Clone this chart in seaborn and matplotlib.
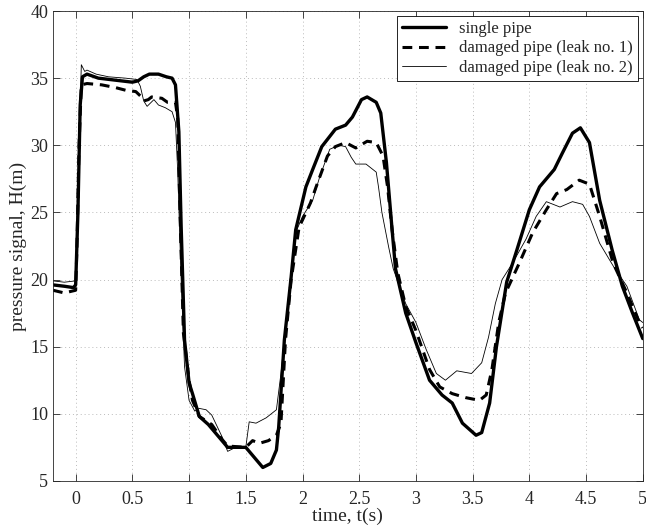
import numpy as np
import pandas as pd
import matplotlib
matplotlib.use("Agg")
import matplotlib.pyplot as plt
import seaborn as sns

# values
t_single = [-0.2, -0.1, -0.02, 0.0, 0.02, 0.04, 0.06, 0.1, 0.2, 0.3, 0.4, 0.5, 0.55, 0.6, 0.65, 0.73,
            0.8, 0.85, 0.88, 0.91, 0.93, 0.96, 1.0, 1.03, 1.09, 1.17, 1.29, 1.34, 1.5, 1.56, 1.65, 1.72,
            1.77, 1.79, 1.84, 1.9, 1.94, 2.03, 2.09, 2.17, 2.29, 2.38, 2.44, 2.52, 2.57, 2.65, 2.69,
            2.74, 2.79, 2.82, 2.91, 3.0, 3.12, 3.23, 3.32, 3.41, 3.53, 3.58, 3.65, 3.71, 3.8, 3.89,
            4.0, 4.09, 4.22, 4.29, 4.38, 4.45, 4.53, 4.62, 4.73, 4.82, 4.91, 5.0]
h_single = [19.6, 19.5, 19.4, 19.6, 25.0, 33.0, 35.1, 35.3, 35.0, 34.9, 34.8, 34.7, 34.8, 35.1, 35.3, 35.3,
            35.1, 35.0, 34.5, 31.0, 24.0, 15.5, 12.3, 11.5, 9.8, 9.2, 8.0, 7.5, 7.5, 6.9, 6.0, 6.3,
            7.3, 9.0, 15.5, 20.2, 23.7, 26.9, 28.2, 29.9, 31.2, 31.5, 32.1, 33.4, 33.6, 33.2, 32.4,
            28.7, 23.7, 20.8, 17.5, 15.3, 12.5, 11.4, 10.8, 9.3, 8.4, 8.6, 10.8, 15.0, 19.8, 22.2,
            25.2, 26.9, 28.2, 29.4, 30.9, 31.3, 30.2, 25.9, 22.2, 19.5, 17.5, 15.6]

t_leak1 = [-0.2, -0.1, 0.0, 0.01, 0.03, 0.05, 0.1, 0.23, 0.35, 0.44, 0.53, 0.58, 0.6, 0.64, 0.67, 0.76,
           0.81, 0.88, 0.9, 0.92, 0.95, 1.0, 1.03, 1.09, 1.2, 1.29, 1.34, 1.5, 1.56, 1.62, 1.7, 1.77,
           1.81, 1.85, 1.9, 1.97, 2.07, 2.12, 2.22, 2.29, 2.38, 2.47, 2.57, 2.65, 2.71, 2.75, 2.79,
           2.84, 2.91, 3.0, 3.12, 3.21, 3.32, 3.44, 3.56, 3.62, 3.67, 3.73, 3.79, 3.91, 4.03, 4.15,
           4.24, 4.33, 4.44, 4.53, 4.62, 4.74, 4.86, 4.97, 5.0]
h_leak1 = [19.2, 19.0, 19.2, 22.0, 30.0, 34.5, 34.6, 34.5, 34.3, 34.1, 34.0, 33.6, 33.3, 33.4, 33.6, 33.5,
           33.2, 33.2, 32.0, 25.0, 16.0, 12.5, 11.0, 9.8, 9.2, 8.1, 7.6, 7.5, 8.0, 7.8, 8.0, 8.4,
           9.3, 15.5, 20.0, 23.9, 25.7, 26.9, 29.2, 29.9, 30.2, 29.8, 30.3, 30.2, 29.2, 26.9, 23.7,
           20.5, 18.0, 16.2, 13.3, 12.0, 11.5, 11.2, 11.0, 11.4, 13.3, 16.8, 19.0, 21.2, 23.5, 25.2,
           26.4, 26.7, 27.4, 27.1, 24.7, 21.2, 19.0, 16.8, 16.4]

t_leak2 = [-0.2, -0.1, 0.0, 0.02, 0.05, 0.08, 0.1, 0.18, 0.29, 0.44, 0.54, 0.57, 0.6, 0.63, 0.69, 0.73,
           0.79, 0.85, 0.88, 0.9, 0.93, 0.96, 1.0, 1.05, 1.09, 1.15, 1.2, 1.29, 1.34, 1.41, 1.5, 1.53,
           1.59, 1.68, 1.77, 1.81, 1.84, 1.9, 1.94, 2.0, 2.09, 2.15, 2.24, 2.32, 2.38, 2.43, 2.47,
           2.56, 2.65, 2.67, 2.7, 2.76, 2.8, 2.91, 3.0, 3.09, 3.18, 3.26, 3.36, 3.49, 3.58, 3.64,
           3.7, 3.76, 3.85, 3.97, 4.06, 4.15, 4.27, 4.38, 4.47, 4.53, 4.62, 4.74, 4.86, 4.97, 5.0]
h_leak2 = [19.9, 19.8, 19.9, 27.0, 36.0, 35.5, 35.6, 35.3, 35.1, 35.0, 34.9, 34.4, 33.3, 32.9, 33.4, 33.0,
           32.8, 32.5, 31.7, 28.0, 20.0, 13.5, 11.0, 10.2, 10.4, 10.3, 9.9, 8.3, 7.2, 7.5, 7.5, 9.4,
           9.3, 9.7, 10.3, 13.0, 15.5, 20.5, 23.5, 24.7, 25.9, 27.6, 29.7, 30.0, 29.9, 29.1, 28.6,
           28.6, 28.0, 26.9, 25.0, 22.4, 20.8, 18.2, 16.8, 14.8, 13.0, 12.5, 13.2, 13.0, 13.8, 15.7,
           18.2, 20.0, 21.2, 23.0, 24.7, 25.8, 25.4, 25.8, 25.6, 24.7, 22.7, 21.0, 19.5, 17.0, 16.8]

sns.set_style("ticks")
plt.rcParams['font.family'] = ['Liberation Serif', 'DejaVu Serif']
plt.rcParams['axes.unicode_minus'] = False

fig = plt.figure(figsize=(6.46, 5.25), dpi=100)
ax = fig.add_axes([0.082, 0.084, 0.913, 0.895])

sns.lineplot(x=t_single, y=h_single, ax=ax, color='k', lw=2.4, label='single pipe',
             errorbar=None, sort=False)
sns.lineplot(x=t_leak1, y=h_leak1, ax=ax, color='k', lw=2.2, linestyle=(0, (3.2, 2.2)),
             label='damaged pipe (leak no. 1)', errorbar=None, sort=False)
sns.lineplot(x=t_leak2, y=h_leak2, ax=ax, color='k', lw=0.6, label='damaged pipe (leak no. 2)',
             errorbar=None, sort=False)

ax.set_xlim(-0.2, 5)
ax.set_ylim(5, 40)
ax.set_xticks(np.arange(0, 5.01, 0.5))
ax.set_xticklabels(['0', '0.5', '1', '1.5', '2', '2.5', '3', '3.5', '4', '4.5', '5'])
ax.set_yticks(np.arange(5, 41, 5))
ax.grid(True, linestyle=(0, (1, 3)), color='#bbbbbb', lw=0.7)
ax.tick_params(direction='in', top=True, right=True, labelsize=13, length=5, width=0.6)
ax.tick_params(axis='x', pad=7)
for s in ax.spines.values():
    s.set_linewidth(0.6)
ax.set_xlabel('time, t(s)', fontsize=14, labelpad=0)
ax.set_ylabel('pressure signal, H(m)', fontsize=14, labelpad=2)

leg = ax.legend(loc='upper right', fontsize=12, frameon=True, fancybox=False, framealpha=1,
                edgecolor='k', borderaxespad=0.3, handlelength=2.6, borderpad=0.3, labelspacing=0.2)
leg.get_frame().set_linewidth(0.6)

fig.savefig('out.png', dpi=100)
